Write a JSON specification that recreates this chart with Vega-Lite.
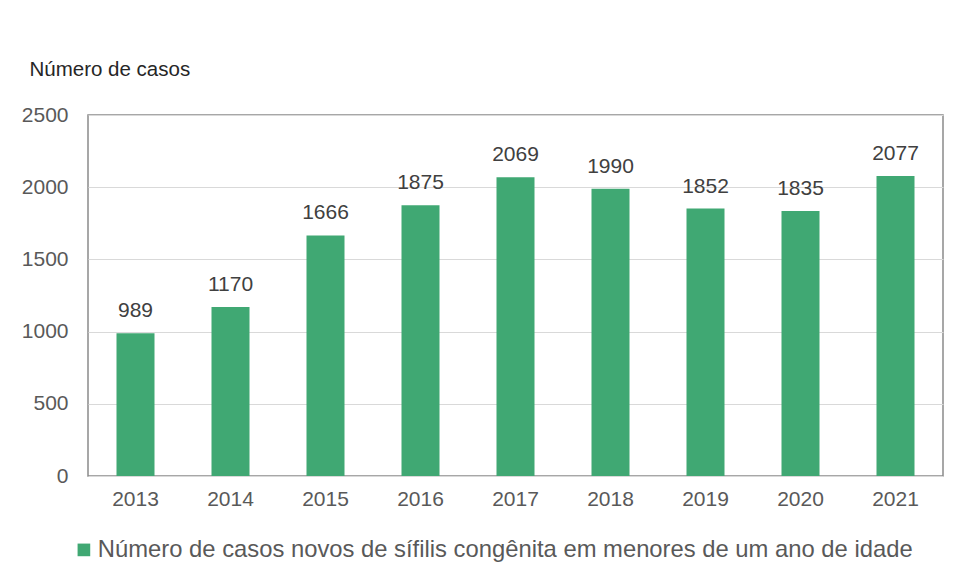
{
  "$schema": "https://vega.github.io/schema/vega-lite/v6.json",
  "width": 855,
  "height": 361,
  "autosize": "none",
  "padding": {"left": 88, "top": 115, "right": 12, "bottom": 107},
  "background": "white",
  "config": {
    "font": "Liberation Sans",
    "view": {"stroke": "#8a8a8a", "strokeWidth": 1.5}
  },
  "data": {
    "values": [
      {"ano": "2013", "casos": 989, "serie": "Número de casos novos de sífilis congênita em menores de um ano de idade"},
      {"ano": "2014", "casos": 1170, "serie": "Número de casos novos de sífilis congênita em menores de um ano de idade"},
      {"ano": "2015", "casos": 1666, "serie": "Número de casos novos de sífilis congênita em menores de um ano de idade"},
      {"ano": "2016", "casos": 1875, "serie": "Número de casos novos de sífilis congênita em menores de um ano de idade"},
      {"ano": "2017", "casos": 2069, "serie": "Número de casos novos de sífilis congênita em menores de um ano de idade"},
      {"ano": "2018", "casos": 1990, "serie": "Número de casos novos de sífilis congênita em menores de um ano de idade"},
      {"ano": "2019", "casos": 1852, "serie": "Número de casos novos de sífilis congênita em menores de um ano de idade"},
      {"ano": "2020", "casos": 1835, "serie": "Número de casos novos de sífilis congênita em menores de um ano de idade"},
      {"ano": "2021", "casos": 2077, "serie": "Número de casos novos de sífilis congênita em menores de um ano de idade"}
    ]
  },
  "encoding": {
    "x": {
      "field": "ano", "type": "ordinal",
      "scale": {"paddingInner": 0.6, "paddingOuter": 0.3},
      "axis": {
        "title": null, "labelAngle": 0, "labelFontSize": 21, "labelColor": "#595959",
        "labelPadding": 12, "ticks": false, "domain": false, "grid": false
      }
    },
    "y": {
      "field": "casos", "type": "quantitative",
      "scale": {"domain": [0, 2500]},
      "axis": {
        "values": [0, 500, 1000, 1500, 2000, 2500], "format": "d",
        "title": "Número de casos", "titleAngle": 0, "titleAlign": "left", "titleBaseline": "alphabetic",
        "titleX": -59, "titleY": -40, "titleFontSize": 20.5, "titleFontWeight": "normal", "titleColor": "#262626",
        "labelFontSize": 21, "labelColor": "#595959", "labelPadding": 20,
        "ticks": false, "domain": false, "gridColor": "#d9d9d9", "gridWidth": 1
      }
    }
  },
  "layer": [
    {
      "mark": {"type": "bar"},
      "encoding": {
        "color": {
          "field": "serie", "type": "nominal",
          "scale": {"range": ["#40A873"]},
          "legend": {
            "title": null, "orient": "none", "legendX": -16, "legendY": 423,
            "symbolType": "square", "symbolSize": 160, "symbolStrokeWidth": 0,
            "labelFontSize": 23.8, "labelColor": "#595959", "labelLimit": 1000, "labelOffset": 2
          }
        }
      }
    },
    {
      "mark": {"type": "text", "baseline": "alphabetic", "dy": -16, "fontSize": 21, "color": "#404040"},
      "encoding": {"text": {"field": "casos", "type": "quantitative", "format": "d"}}
    }
  ]
}
